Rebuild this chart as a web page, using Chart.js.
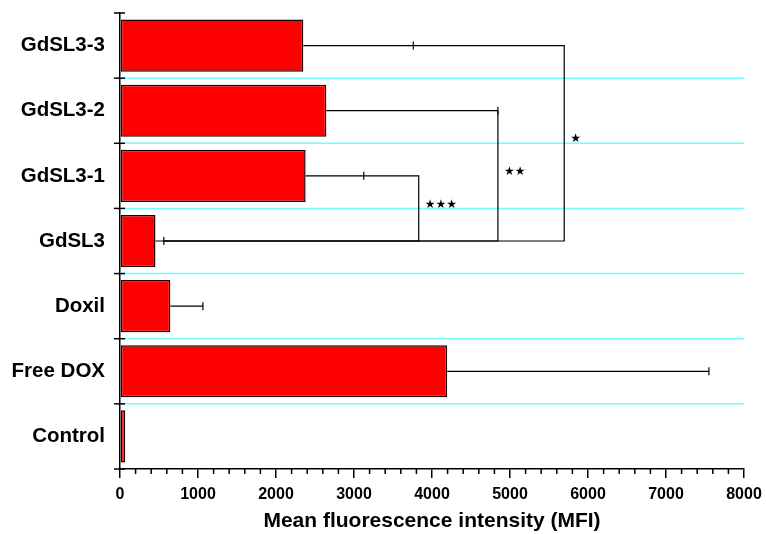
<!DOCTYPE html>
<html>
<head>
<meta charset="utf-8">
<script src="https://cdn.jsdelivr.net/npm/chart.js@4/dist/chart.umd.min.js"></script>
<style>
  html, body { margin: 0; padding: 0; background: #fff; }
  #wrap { width: 766px; height: 534px; position: relative; }
</style>
</head>
<body>
<div id="wrap"><canvas id="chart"></canvas></div>
<script>
const categories = ['GdSL3-3', 'GdSL3-2', 'GdSL3-1', 'GdSL3', 'Doxil', 'Free DOX', 'Control']
const mfiMeans = [2350, 2645, 2380, 455, 645, 4195, 67]
const mfiErrors = [1410, 2200, 745, 107, 418, 3355, 0]

// significance brackets, all against GdSL3
const bracketFrom = ['GdSL3-3', 'GdSL3-2', 'GdSL3-1']
const bracketTo = ['GdSL3', 'GdSL3', 'GdSL3']
const bracketX = [5695, 4845, 3830]
const bracketLabels = ['★', '★★', '★★★']

const xTicks = [0, 1000, 2000, 3000, 4000, 5000, 6000, 7000, 8000]
const minorStep = 200

const font = "'Liberation Sans', Arial, sans-serif"

const extras = {
  id: 'extras',
  beforeDatasetsDraw(chart) {
    const c = chart.ctx
    const y = chart.scales.y
    const area = chart.chartArea
    c.save()
    c.strokeStyle = '#70ffff'
    c.lineWidth = 1.5
    for (let i = 0; i < categories.length - 1; i++) {
      const py = (y.getPixelForValue(i) + y.getPixelForValue(i + 1)) / 2
      c.beginPath()
      c.moveTo(area.left, py)
      c.lineTo(area.right, py)
      c.stroke()
    }
    c.restore()
  },
  afterDatasetsDraw(chart) {
    const c = chart.ctx
    const x = chart.scales.x
    const y = chart.scales.y
    const area = chart.chartArea
    c.save()
    c.strokeStyle = '#000'

    // y axis cross ticks at category edges
    c.lineWidth = 1.5
    const half = (y.getPixelForValue(1) - y.getPixelForValue(0)) / 2
    for (let i = 0; i <= categories.length; i++) {
      const py = y.getPixelForValue(i) - half
      c.beginPath()
      c.moveTo(area.left - 6, py)
      c.lineTo(area.left + 5, py)
      c.stroke()
    }

    // x minor ticks
    for (let v = 0; v <= 8000; v += minorStep) {
      if (v % 1000 === 0) continue
      const px = x.getPixelForValue(v)
      c.beginPath()
      c.moveTo(px, area.bottom)
      c.lineTo(px, area.bottom + 5)
      c.stroke()
    }

    // error bars (one sided)
    c.lineWidth = 1.2
    categories.forEach((cat, i) => {
      if (!mfiErrors[i]) return
      const py = y.getPixelForValue(i)
      const x1 = x.getPixelForValue(mfiMeans[i])
      const x2 = x.getPixelForValue(mfiMeans[i] + mfiErrors[i])
      c.beginPath()
      c.moveTo(x1, py)
      c.lineTo(x2, py)
      c.moveTo(x2, py - 4)
      c.lineTo(x2, py + 4)
      c.stroke()
    })

    // brackets
    c.fillStyle = '#000'
    c.font = "12px 'DejaVu Sans'"
    c.textBaseline = 'bottom'
    c.textAlign = 'left'
    bracketFrom.forEach((from, k) => {
      const i = categories.indexOf(from)
      const j = categories.indexOf(bracketTo[k])
      const bx = x.getPixelForValue(bracketX[k])
      const y1 = y.getPixelForValue(i)
      const y2 = y.getPixelForValue(j)
      c.beginPath()
      c.moveTo(x.getPixelForValue(mfiMeans[i] + mfiErrors[i]), y1)
      c.lineTo(bx, y1)
      c.lineTo(bx, y2)
      c.lineTo(x.getPixelForValue(mfiMeans[j] + mfiErrors[j]), y2)
      c.stroke()
      c.fillText(bracketLabels[k], bx + 6, (y1 + y2) / 2 + 2)
    })
    c.restore()
  }
}

const ctx = document.getElementById('chart').getContext('2d')
new Chart(ctx, {
  type: 'bar',
  data: {
    labels: categories,
    datasets: [{
      data: mfiMeans,
      backgroundColor: '#ff0000',
      borderColor: '#1a0000',
      borderWidth: 1.5,
      borderSkipped: false,
      barPercentage: 0.8,
      categoryPercentage: 1
    }]
  },
  options: {
    indexAxis: 'y',
    responsive: true,
    maintainAspectRatio: false,
    animation: false,
    layout: { padding: { top: 13, right: 22, left: 0, bottom: 0 } },
    plugins: { legend: { display: false }, tooltip: { enabled: false } },
    scales: {
      x: {
        min: 0,
        max: 8000,
        afterFit: (s) => { s.height = 65; s.paddingLeft = 0; s.paddingRight = 0 },
        afterBuildTicks: (s) => { s.ticks = xTicks.map(v => ({ value: v })) },
        grid: { drawOnChartArea: false, drawTicks: true, tickLength: 9, color: '#000', lineWidth: 1.5 },
        border: { color: '#000', width: 1.5 },
        ticks: {
          color: '#000',
          padding: 7,
          maxRotation: 0,
          callback: (v) => String(v),
          font: { family: font, size: 16, weight: 'bold' }
        },
        title: {
          display: true,
          text: 'Mean fluorescence intensity (MFI)',
          color: '#000',
          padding: { top: 0, bottom: 0 },
          font: { family: font, size: 21, weight: 'bold' }
        }
      },
      y: {
        afterFit: (s) => { s.width = 120; s.paddingTop = 0; s.paddingBottom = 0 },
        grid: { display: false, drawTicks: false },
        border: { color: '#000', width: 1.5 },
        ticks: { color: '#000', padding: 15, font: { family: font, size: 20.5, weight: 'bold' } }
      }
    }
  },
  plugins: [extras]
})
</script>
</body>
</html>
